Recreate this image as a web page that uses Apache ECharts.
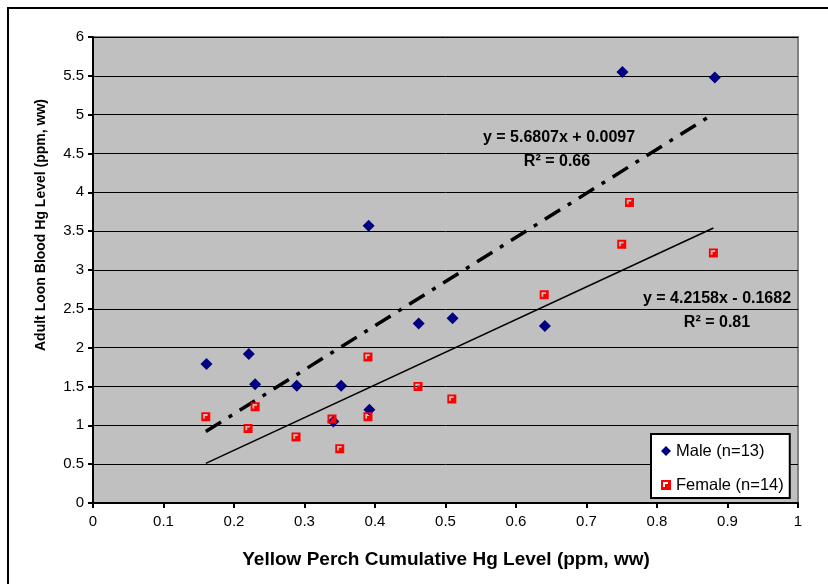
<!DOCTYPE html>
<html>
<head>
<meta charset="utf-8">
<title>Loon blood Hg vs perch Hg</title>
<script src="https://cdn.jsdelivr.net/npm/echarts@6.0.0/dist/echarts.min.js"></script>
<style>
  html, body { margin: 0; padding: 0; background: #fff; }
  #chart { width: 828px; height: 584px; }
</style>
</head>
<body>
<div id="chart"></div>
<script>
// male loons: [perch Hg, loon blood Hg]
const maleData = [
  [0.161, 1.79], [0.221, 1.92], [0.230, 1.53], [0.289, 1.51], [0.341, 1.05],
  [0.352, 1.51], [0.391, 3.57], [0.392, 1.20], [0.462, 2.31], [0.510, 2.38],
  [0.641, 2.28], [0.751, 5.55], [0.882, 5.48]
]
// female loons
const femaleData = [
  [0.160, 1.11], [0.220, 0.96], [0.230, 1.24], [0.288, 0.85], [0.339, 1.08],
  [0.350, 0.70], [0.390, 1.88], [0.390, 1.11], [0.461, 1.50], [0.509, 1.34],
  [0.640, 2.68], [0.750, 3.33], [0.761, 3.87], [0.880, 3.22]
]
// trendline end points as drawn
const maleTrend = [[0.16, 0.92], [0.88, 5.01]]
const femaleTrend = [[0.16, 0.51], [0.88, 3.54]]

const legendNames = ['Male (n=13)', 'Female (n=14)']
const maleEq = 'y = 5.6807x + 0.0097'
const maleR2 = 'R² = 0.66'
const femaleEq = 'y = 4.2158x - 0.1682'
const femaleR2 = 'R² = 0.81'

const femaleSymbol = 'path://M0 0L10 0L10 10L0 10Z M2 2L2 7L4 7L4 4L7 4L7 2Z'

const chart = echarts.init(document.getElementById('chart'))

const option = {
  animation: false,
  textStyle: { fontFamily: 'Liberation Sans, Arial, sans-serif' },
  grid: {
    left: 93, right: 30, top: 37, bottom: 81,
    show: true,
    backgroundColor: '#c0c0c0',
    borderColor: '#808080',
    borderWidth: 2
  },
  legend: {
    data: legendNames,
    orient: 'vertical',
    left: 651, top: 434,
    backgroundColor: '#fff',
    borderColor: '#000',
    borderWidth: 2,
    borderRadius: 0,
    padding: [7, 6, 3, 10],
    itemWidth: 10, itemHeight: 10,
    itemGap: 14,
    textStyle: { fontSize: 16.5, color: '#000', lineHeight: 20, fontFamily: 'Liberation Sans, Arial, sans-serif' }
  },
  xAxis: {
    type: 'value',
    min: 0, max: 1, interval: 0.1,
    axisLine: { show: true, lineStyle: { color: '#000', width: 2 } },
    axisTick: { show: true, length: 5, lineStyle: { color: '#000', width: 2 } },
    axisLabel: { fontSize: 15, color: '#000', margin: 11 },
    splitLine: { show: false }
  },
  yAxis: {
    type: 'value',
    min: 0, max: 6, interval: 0.5,
    axisLine: { show: true, lineStyle: { color: '#000', width: 2 } },
    axisTick: { show: true, length: 5, lineStyle: { color: '#000', width: 2 } },
    axisLabel: { fontSize: 15, color: '#000', margin: 9 },
    splitLine: { show: true, lineStyle: { color: '#000', width: 1 } }
  },
  series: [
    {
      name: 'maleTrend',
      type: 'line',
      data: maleTrend,
      symbol: 'none',
      z: 2,
      lineStyle: { color: '#000', width: 3.5, type: [18, 9, 4, 9] }
    },
    {
      name: 'femaleTrend',
      type: 'line',
      data: femaleTrend,
      symbol: 'none',
      z: 2,
      lineStyle: { color: '#000', width: 1.6 }
    },
    {
      name: legendNames[0],
      type: 'scatter',
      data: maleData,
      symbol: 'diamond',
      symbolSize: 12,
      z: 3,
      itemStyle: { color: '#000080', opacity: 1 }
    },
    {
      name: legendNames[1],
      type: 'scatter',
      data: femaleData,
      symbol: femaleSymbol,
      symbolSize: 9,
      z: 4,
      itemStyle: { color: '#ff0000', opacity: 1 }
    }
  ],
  graphic: [
    {
      type: 'rect',
      shape: { x: 8, y: 8, width: 840, height: 600 },
      style: { fill: 'none', stroke: '#000', lineWidth: 2 },
      silent: true
    },
    {
      type: 'text', x: 559, y: 138,
      style: { text: maleEq, font: 'bold 16px Liberation Sans, Arial', fill: '#000', align: 'center', verticalAlign: 'middle' }
    },
    {
      type: 'text', x: 557, y: 162,
      style: { text: maleR2, font: 'bold 16px Liberation Sans, Arial', fill: '#000', align: 'center', verticalAlign: 'middle' }
    },
    {
      type: 'text', x: 717, y: 299,
      style: { text: femaleEq, font: 'bold 16px Liberation Sans, Arial', fill: '#000', align: 'center', verticalAlign: 'middle' }
    },
    {
      type: 'text', x: 717, y: 323,
      style: { text: femaleR2, font: 'bold 16px Liberation Sans, Arial', fill: '#000', align: 'center', verticalAlign: 'middle' }
    },
    {
      type: 'text', x: 446, y: 560,
      style: { text: 'Yellow Perch Cumulative Hg Level (ppm, ww)', font: 'bold 19px Liberation Sans, Arial', fill: '#000', align: 'center', verticalAlign: 'middle' }
    },
    {
      type: 'text', x: 41, y: 225, rotation: Math.PI / 2,
      style: { text: 'Adult Loon Blood Hg Level (ppm, ww)', font: 'bold 14px Liberation Sans, Arial', fill: '#000', align: 'center', verticalAlign: 'middle' }
    }
  ]
}

chart.setOption(option)
</script>
</body>
</html>
